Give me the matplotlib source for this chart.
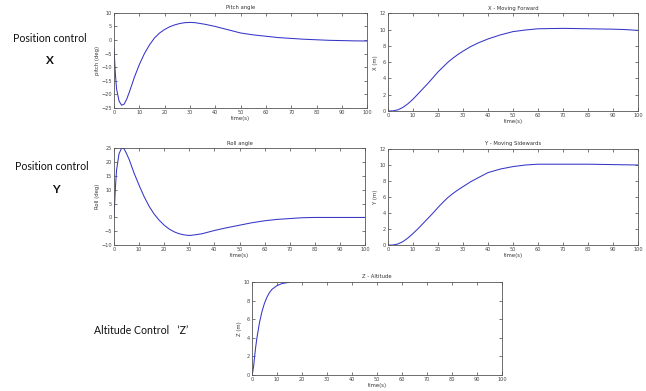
import matplotlib
matplotlib.use("Agg")
import matplotlib.pyplot as plt

# pitch angle response (deg)
pitch_t = [0, 0.5, 1, 2, 3, 4, 5, 6, 7, 8, 10, 12, 14, 16, 18, 20, 22, 24, 26, 28, 30,
           32, 34, 36, 38, 40, 45, 50, 55, 60, 65, 70, 75, 80, 85, 90, 95, 100]
pitch_v = [-3, -12, -18, -22.5, -24, -23.6, -21.8, -19.3, -16.6, -13.8, -9.0, -5.0, -1.8,
           0.8, 2.6, 3.9, 4.9, 5.6, 6.1, 6.4, 6.5, 6.4, 6.1, 5.8, 5.4, 5.0, 3.8, 2.6, 1.9,
           1.4, 0.9, 0.6, 0.3, 0.1, -0.1, -0.2, -0.3, -0.35]

# X position (m)
x_t = [0, 2, 4, 6, 8, 10, 12, 14, 16, 18, 20, 22, 24, 26, 28, 30, 33, 36, 40, 45,
       50, 55, 60, 70, 80, 90, 95, 100]
x_v = [0, 0.02, 0.15, 0.45, 0.9, 1.45, 2.1, 2.75, 3.4, 4.1, 4.8, 5.4, 6.0, 6.5, 6.95,
       7.35, 7.9, 8.35, 8.85, 9.35, 9.75, 9.95, 10.1, 10.15, 10.1, 10.05, 10.0, 9.9]

# roll angle response (deg)
roll_t = [0, 0.5, 1, 2, 3, 4, 5, 6, 8, 10, 12, 14, 16, 18, 20, 22, 24, 26, 28, 30,
          32, 35, 40, 45, 50, 55, 60, 65, 70, 75, 80, 90, 100]
roll_v = [0, 10, 17, 23, 25, 24.8, 23, 21, 16, 11.6, 7.5, 4, 1.2, -1, -2.8, -4.2,
          -5.2, -5.9, -6.3, -6.5, -6.3, -5.9, -4.7, -3.7, -2.8, -1.9, -1.2, -0.7,
          -0.4, -0.1, 0, 0, 0]

# Y position (m)
y_t = [0, 2, 4, 6, 8, 10, 12, 14, 16, 18, 20, 22, 24, 26, 28, 30, 33, 36, 40, 45,
       50, 55, 60, 70, 80, 90, 100]
y_v = [0, 0.02, 0.15, 0.45, 0.9, 1.45, 2.05, 2.7, 3.35, 4.0, 4.7, 5.35, 5.95, 6.45,
       6.9, 7.3, 7.9, 8.4, 9.05, 9.5, 9.8, 10.0, 10.1, 10.1, 10.1, 10.05, 10.0]

# Z altitude (m)
z_t = [0, 0.3, 0.7, 1, 1.5, 2, 3, 4, 5, 6, 7, 8, 10, 12, 15]
z_v = [0, 0.3, 1, 1.8, 3, 4, 5.6, 6.8, 7.7, 8.35, 8.85, 9.2, 9.6, 9.82, 9.97]

time_ticks = list(range(0, 101, 10))

plt.rcParams['font.family'] = ['DejaVu Sans']
fig = plt.figure(figsize=(6.46, 3.91), dpi=100)

def make_axes(rect, t, v, title, ylab, ylim, yticks):
    ax = fig.add_axes(rect)
    ax.plot(t, v, color='#3535c8', lw=0.75)
    ax.set_xlim(0, 100)
    ax.set_ylim(*ylim)
    ax.set_xticks(time_ticks)
    ax.set_yticks(yticks)
    ax.tick_params(direction='in', length=2.5, width=0.5, labelsize=3.6,
                   top=True, right=True, pad=1.5, colors='#444444')
    for s in ax.spines.values():
        s.set_linewidth(0.6)
        s.set_color('#555555')
    ax.set_title(title, fontsize=3.8, pad=2.5, color='#333333')
    ax.set_xlabel('time(s)', fontsize=3.8, labelpad=0.5, color='#333333')
    ax.set_ylabel(ylab, fontsize=3.8, labelpad=1, color='#333333')
    return ax

make_axes([0.1765, 0.724, 0.392, 0.243], pitch_t, pitch_v, 'Pitch angle',
          'pitch (deg)', (-25, 10), list(range(-25, 11, 5)))
make_axes([0.6006, 0.716, 0.387, 0.250], x_t, x_v, 'X - Moving Forward',
          'X (m)', (0, 12), list(range(0, 13, 2)))
make_axes([0.1765, 0.373, 0.3885, 0.248], roll_t, roll_v, 'Roll angle',
          'Roll (deg)', (-10, 25), list(range(-10, 26, 5)))
make_axes([0.6006, 0.373, 0.387, 0.246], y_t, y_v, 'Y - Moving Sidewards',
          'Y (m)', (0, 12), list(range(0, 13, 2)))
make_axes([0.390, 0.041, 0.387, 0.238], z_t, z_v, 'Z - Altitude',
          'Z (m)', (0, 10), list(range(0, 11, 2)))

# side labels
lab = dict(family='Lato', color='#111111', ha='center', va='center')
fig.text(50 / 646, 1 - 38 / 391, 'Position control', fontsize=7.6, **lab)
fig.text(50 / 646, 1 - 61 / 391, 'X', fontsize=8.5, fontweight='bold', **lab)
fig.text(52 / 646, 1 - 167 / 391, 'Position control', fontsize=7.6, **lab)
fig.text(56 / 646, 1 - 190 / 391, 'Y', fontsize=8.5, fontweight='bold', **lab)
fig.text(141 / 646, 1 - 330 / 391, "Altitude Control   \u2018Z\u2019", fontsize=7.6, **lab)

fig.savefig('out.png', dpi=100)
